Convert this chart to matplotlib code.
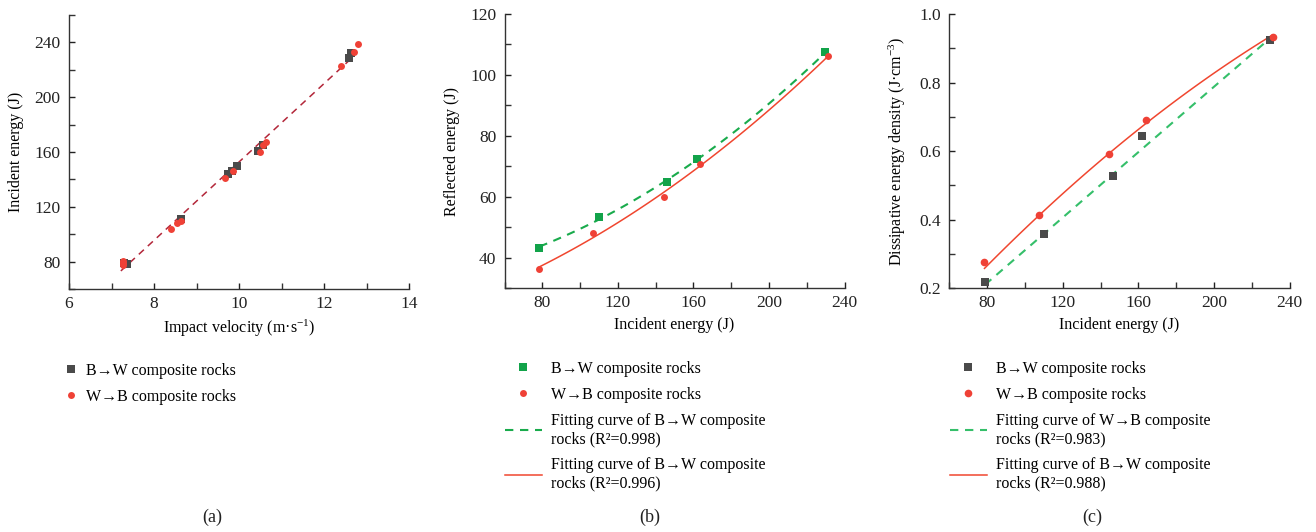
import numpy as np
import matplotlib
matplotlib.use("Agg")
import matplotlib.pyplot as plt
from matplotlib.ticker import MultipleLocator, FormatStrFormatter

plt.rcParams['font.family'] = ['Liberation Serif', 'DejaVu Serif']
plt.rcParams['mathtext.fontset'] = 'custom'
plt.rcParams['mathtext.rm'] = 'Liberation Serif'
plt.rcParams['mathtext.it'] = 'Liberation Serif:italic'
plt.rcParams['font.size'] = 11

# ---------------- data: panel (a) ----------------
a_bw_velocity = [7.30, 7.36, 8.64, 9.75, 9.84, 9.96, 10.44, 10.57, 12.59, 12.64]
a_bw_energy = [79.3, 78.6, 110.9, 143.7, 145.9, 150.0, 160.7, 164.9, 228.6, 232.5]
a_wb_velocity = [7.27, 7.27, 7.28, 8.40, 8.53, 8.64, 9.67, 9.87, 10.49, 10.57, 10.64, 12.41, 12.71, 12.79]
a_wb_energy = [79.3, 77.3, 80.8, 103.8, 108.4, 109.7, 140.8, 146.4, 160.0, 165.1, 167.1, 223.0, 232.7, 238.8]
a_fit_coef = [28.6, -133.3]          # slope, intercept of dashed fit
a_fit_range = [7.22, 12.62]

# ---------------- data: panel (b) ----------------
b_bw_incident = [78.4, 109.7, 146.2, 162.1, 229.9]
b_bw_reflected = [43.3, 53.2, 64.8, 72.5, 107.4]
b_wb_incident = [78.4, 106.8, 144.3, 163.5, 231.5]
b_wb_reflected = [36.3, 48.1, 59.9, 70.7, 106.3]
b_r2 = ["0.998", "0.996"]

# ---------------- data: panel (c) ----------------
c_bw_incident = [78.9, 110.2, 146.7, 162.0, 229.8]
c_bw_density = [0.2185, 0.357, 0.527, 0.644, 0.925]
c_wb_incident = [78.6, 107.2, 144.4, 164.0, 231.0]
c_wb_density = [0.276, 0.415, 0.591, 0.690, 0.934]
c_green_fit = [0.00477, -0.166]            # linear
c_red_fit = [-7.19e-6, 0.006695, -0.2238]  # quadratic
c_r2 = ["0.983", "0.988"]

GRAY = '#4a4a4a'
RED = '#ef4136'
GREEN = '#12a34a'
GREEN_LINE = '#19ab4c'
GREEN_LINE_C = '#35bf6a'
RED_LINE = '#f0462f'
DARKRED = '#b3273a'

TICK_FS = 12.5
LABEL_FS = 11.5
LEG_FS = 11.5

W, H = 1316, 532
fig = plt.figure(figsize=(W / 100, H / 100), dpi=100)

def fx(px):
    return px / W

def fy(py):
    return 1 - py / H

def make_axes(left, right, top, bottom):
    ax = fig.add_axes([fx(left), fy(bottom), fx(right - left), (bottom - top) / H])
    for s in ['top', 'right']:
        ax.spines[s].set_visible(False)
    for s in ['left', 'bottom']:
        ax.spines[s].set_color('#333333')
        ax.spines[s].set_linewidth(1.0)
    ax.tick_params(which='both', direction='in', color='#333333', width=1.0, length=4.5)
    ax.tick_params(axis='x', pad=5, labelsize=TICK_FS, colors='#222222')
    ax.tick_params(axis='y', pad=6, labelsize=TICK_FS, colors='#222222')
    return ax

def set_labels(ax, xl, yl, ylx):
    ax.set_xlabel(xl, fontsize=LABEL_FS)
    ax.set_ylabel(yl, fontsize=LABEL_FS)
    ax.xaxis.set_label_coords(0.5, -0.105)
    ax.yaxis.set_label_coords(ylx, 0.5)
    ax.xaxis.label.set_va('top')

# ---------------- panel (a) ----------------
ax1 = make_axes(69, 409, 15, 289)
xa = np.linspace(a_fit_range[0], a_fit_range[1], 50)
ax1.plot(xa, np.polyval(a_fit_coef, xa), color=DARKRED, lw=1.1, dashes=(4.5, 3.5), zorder=3)
h1 = ax1.plot(a_bw_velocity, a_bw_energy, 's', color=GRAY, ms=5.5, mew=0, zorder=4,
              label='B→W composite rocks')[0]
h2 = ax1.plot(a_wb_velocity, a_wb_energy, 'o', color=RED, ms=5, mew=0, zorder=5,
              label='W→B composite rocks')[0]
ax1.set_xlim(6, 14)
ax1.set_ylim(60, 260)
ax1.xaxis.set_major_locator(MultipleLocator(2))
ax1.xaxis.set_minor_locator(MultipleLocator(1))
ax1.yaxis.set_minor_locator(MultipleLocator(20))
ax1.set_yticks([80, 120, 160, 200, 240])
set_labels(ax1, 'Impact velocity (m·s$^{-1}$)', 'Incident energy (J)', -0.132)
fig.legend(handles=[h1, h2], loc='upper left', bbox_to_anchor=(fx(63), fy(363)),
           bbox_transform=fig.transFigure, frameon=False, borderpad=0, borderaxespad=0,
           handlelength=1.0, handletextpad=0.45, labelspacing=0.62, fontsize=LEG_FS)

# ---------------- panel (b) ----------------
ax2 = make_axes(504.7, 844.5, 14, 288)
fg = np.polyfit(b_bw_incident, b_bw_reflected, 2)
fr = np.polyfit(b_wb_incident, b_wb_reflected, 2)
xg = np.linspace(min(b_bw_incident), max(b_bw_incident), 100)
xr = np.linspace(min(b_wb_incident), max(b_wb_incident), 100)
l1 = ax2.plot(xg, np.polyval(fg, xg), color=GREEN_LINE, lw=1.5, dashes=(4, 3.2), zorder=3,
              label='Fitting curve of B→W composite\nrocks (R²=%s)' % b_r2[0])[0]
l2 = ax2.plot(xr, np.polyval(fr, xr), color=RED_LINE, lw=1.1, zorder=3,
              label='Fitting curve of B→W composite\nrocks (R²=%s)' % b_r2[1])[0]
s1 = ax2.plot(b_bw_incident, b_bw_reflected, 's', color=GREEN, ms=6, mew=0, zorder=4,
              label='B→W composite rocks')[0]
s2 = ax2.plot(b_wb_incident, b_wb_reflected, 'o', color=RED, ms=5, mew=0, zorder=5,
              label='W→B composite rocks')[0]
ax2.set_xlim(60, 240)
ax2.set_ylim(30, 120)
ax2.set_xticks([80, 120, 160, 200, 240])
ax2.xaxis.set_minor_locator(MultipleLocator(20))
ax2.set_yticks([40, 60, 80, 100, 120])
ax2.yaxis.set_minor_locator(MultipleLocator(10))
set_labels(ax2, 'Incident energy (J)', 'Reflected energy (J)', -0.131)
fig.legend(handles=[s1, s2, l1, l2], loc='upper left', bbox_to_anchor=(fx(505), fy(361)),
           bbox_transform=fig.transFigure, frameon=False, borderpad=0, borderaxespad=0,
           handlelength=2.3, handletextpad=0.6, labelspacing=0.62, fontsize=LEG_FS)

# ---------------- panel (c) ----------------
ax3 = make_axes(949.3, 1289.7, 14, 288.3)
xcg = np.linspace(min(c_bw_incident), max(c_bw_incident), 100)
xcr = np.linspace(min(c_wb_incident), max(c_wb_incident), 100)
m1 = ax3.plot(xcg, np.polyval(c_green_fit, xcg), color=GREEN_LINE_C, lw=1.5, dashes=(4, 3.2), zorder=3,
              label='Fitting curve of W→B composite\nrocks (R²=%s)' % c_r2[0])[0]
m2 = ax3.plot(xcr, np.polyval(c_red_fit, xcr), color=RED_LINE, lw=1.1, zorder=3,
              label='Fitting curve of B→W composite\nrocks (R²=%s)' % c_r2[1])[0]
t1 = ax3.plot(c_bw_incident, c_bw_density, 's', color=GRAY, ms=5.2, mew=0, zorder=4,
              label='B→W composite rocks')[0]
t2 = ax3.plot(c_wb_incident, c_wb_density, 'o', color=RED, ms=5.5, mew=0, zorder=5,
              label='W→B composite rocks')[0]
ax3.set_xlim(60, 240)
ax3.set_ylim(0.2, 1.0)
ax3.set_xticks([80, 120, 160, 200, 240])
ax3.xaxis.set_minor_locator(MultipleLocator(20))
ax3.set_yticks([0.2, 0.4, 0.6, 0.8, 1.0])
ax3.yaxis.set_minor_locator(MultipleLocator(0.1))
ax3.yaxis.set_major_formatter(FormatStrFormatter('%.1f'))
set_labels(ax3, 'Incident energy (J)', 'Dissipative energy density (J·cm$^{-3}$)', -0.122)
fig.legend(handles=[t1, t2, m1, m2], loc='upper left', bbox_to_anchor=(fx(950), fy(361)),
           bbox_transform=fig.transFigure, frameon=False, borderpad=0, borderaxespad=0,
           handlelength=2.3, handletextpad=0.6, labelspacing=0.62, fontsize=LEG_FS)

# panel letters
for lab, px in [('(a)', 212), ('(b)', 650), ('(c)', 1092)]:
    fig.text(fx(px), fy(517), lab, ha='center', va='center', fontsize=13, color='#222222')

fig.savefig('out.png', dpi=100)
